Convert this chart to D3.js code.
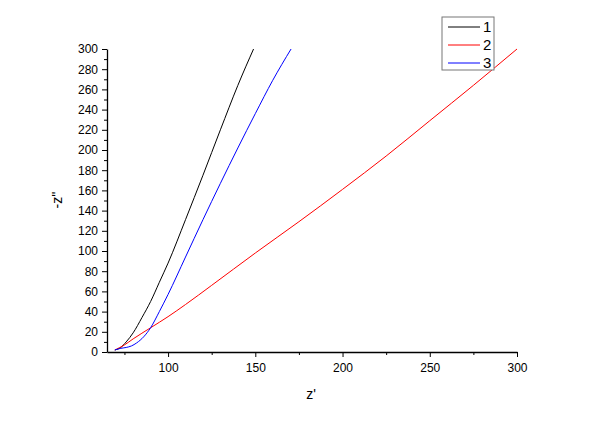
<!DOCTYPE html>
<html>
<head>
<meta charset="utf-8">
<script src="https://cdn.jsdelivr.net/npm/d3@7"></script>
<style>
  body { margin: 0; background: #fff; }
  svg { font-family: "Liberation Sans", Arial, sans-serif; }
  .axis path, .axis line { stroke: #000; }
  .axis text { font-size: 12px; fill: #000; }
</style>
</head>
<body>
<script>
// series: [z', -z'']
var series1 = [[69.5,2],[72.5,4],[76,10],[80,19],[85,34],[90,50],[95,69],[100,88],[110,131],[120,175],[130,220],[140,264],[149,300]];
var series2 = [[69.5,2],[75,7],[80,13],[90,24],[100,35],[110,47],[125,66],[150,98],[175,129],[200,161],[225,194],[250,229],[275,264],[300,300]];
var series3 = [[69.5,2],[72.5,3.5],[76,4.5],[79,6],[82,9],[86,15],[90,24],[95,40],[100,57],[110,94],[120,131],[130,167],[140,202],[150,236],[160,269],[170.5,300]];
var seriesNames = ["1", "2", "3"];
var seriesColors = ["#000000", "#ff0000", "#0000ff"];
var xTicks = [100, 150, 200, 250, 300];
var xMinor = [75, 125, 175, 225, 275];
var yTicks = d3.range(0, 301, 20);
var yMinor = d3.range(10, 300, 20);

var width = 600, height = 424;

var svg = d3.select("body")
    .append("svg")
    .attr("width", width)
    .attr("height", height);

var x = d3.scaleLinear().domain([65, 300]).range([107, 517]);
var y = d3.scaleLinear().domain([0, 300]).range([352, 49]);

// minor ticks first
svg.append("g")
    .attr("class", "axis")
    .attr("transform", "translate(0,352)")
    .call(d3.axisBottom(x).tickValues(xMinor).tickSize(3).tickFormat(""))
    .select(".domain").remove();

svg.append("g")
    .attr("class", "axis")
    .attr("transform", "translate(107,0)")
    .call(d3.axisLeft(y).tickValues(yMinor).tickSize(3).tickFormat(""))
    .select(".domain").remove();

svg.append("g")
    .attr("class", "axis")
    .attr("transform", "translate(0,352)")
    .call(d3.axisBottom(x).tickValues(xTicks).tickSize(5).tickSizeOuter(0).tickPadding(6));

svg.append("g")
    .attr("class", "axis")
    .attr("transform", "translate(107,0)")
    .call(d3.axisLeft(y).tickValues(yTicks).tickSize(5).tickSizeOuter(0).tickPadding(4));

svg.selectAll(".axis .domain").attr("stroke-width", 1.3);

var line = d3.line()
    .x(function(d){ return x(d[0]); })
    .y(function(d){ return y(d[1]); })
    .curve(d3.curveMonotoneX);

[series1, series2, series3].forEach(function(s, i){
    svg.append("path")
        .datum(s)
        .attr("fill", "none")
        .attr("stroke", seriesColors[i])
        .attr("stroke-width", 1)
        .attr("d", line);
});

// axis titles
svg.append("text")
    .attr("x", 311)
    .attr("y", 399)
    .attr("text-anchor", "middle")
    .attr("font-size", 14)
    .text("z'");

svg.append("text")
    .attr("transform", "translate(62,200) rotate(-90)")
    .attr("text-anchor", "middle")
    .attr("font-size", 14)
    .text("-z''");

// legend
var legend = svg.append("g");
legend.append("rect")
    .attr("x", 442).attr("y", 17)
    .attr("width", 52).attr("height", 53)
    .attr("fill", "#fff")
    .attr("stroke", "#777");

seriesNames.forEach(function(n, i){
    var ly = 27 + i * 18;
    legend.append("line")
        .attr("x1", 448).attr("x2", 480)
        .attr("y1", ly).attr("y2", ly)
        .attr("stroke", seriesColors[i]);
    legend.append("text")
        .attr("x", 483)
        .attr("y", ly + 5)
        .attr("font-size", 15)
        .text(n);
});
</script>
</body>
</html>
